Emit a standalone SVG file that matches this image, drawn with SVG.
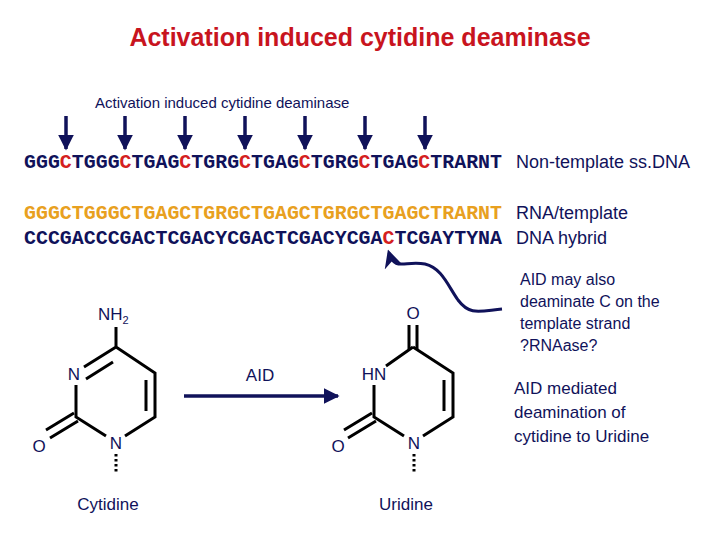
<svg xmlns="http://www.w3.org/2000/svg" width="720" height="540" viewBox="0 0 720 540">
<defs>
<marker id="ah" viewBox="0 0 10 10" refX="9" refY="5" markerWidth="4.5" markerHeight="4.5" markerUnits="strokeWidth" orient="auto"><path d="M0,0 L10,5 L0,10 z" fill="#10125a"/></marker>
<marker id="ah2" viewBox="0 0 10 10" refX="8" refY="5" markerWidth="6" markerHeight="6" orient="auto"><path d="M0,0 L10,5 L0,10 L3,5 z" fill="#10125a"/></marker>
</defs>
<style>
.s{font-family:"Liberation Sans",Arial,sans-serif;fill:#10125a}
.seq{font-family:"Liberation Mono","Courier New",monospace;font-weight:bold;font-size:20px}
.b{stroke:#000;stroke-width:3;fill:none}
.r{fill:#d42020}
</style>
<rect width="720" height="540" fill="#fff"/>
<text x="360" y="46" text-anchor="middle" font-family="Liberation Sans,Arial,sans-serif" font-weight="bold" font-size="25" fill="#c8141e">Activation induced cytidine deaminase</text>
<text class="s" x="95" y="108" font-size="15">Activation induced cytidine deaminase</text>
<g id="connectors" stroke="#10125a" fill="none">
<g stroke-width="3.5" marker-end="url(#ah)">
<line x1="66" y1="116" x2="66" y2="149"/><line x1="125" y1="116" x2="125" y2="149"/><line x1="185" y1="116" x2="185" y2="149"/><line x1="245" y1="116" x2="245" y2="149"/><line x1="305" y1="116" x2="305" y2="149"/><line x1="365" y1="116" x2="365" y2="149"/><line x1="425" y1="116" x2="425" y2="149"/>
</g>
<path d="M502,309 C480,311 470,316 458,300 C448,286 442,268 425,264 C405,260 395,272 389,253" stroke-width="3" marker-end="url(#ah2)"/>
<line x1="184" y1="396" x2="338" y2="396" stroke-width="3.5" marker-end="url(#ah)"/>
</g>
<g id="seq1"><text class="seq" x="24" y="168" textLength="478" lengthAdjust="spacingAndGlyphs" fill="#10125a">GGG<tspan class="r">C</tspan>TGGG<tspan class="r">C</tspan>TGAG<tspan class="r">C</tspan>TGRG<tspan class="r">C</tspan>TGAG<tspan class="r">C</tspan>TGRG<tspan class="r">C</tspan>TGAG<tspan class="r">C</tspan>TRARNT</text>
<text class="s" x="516" y="168" font-size="18">Non-template ss.DNA</text></g>
<g id="seq2"><text class="seq" x="24" y="219" textLength="478" lengthAdjust="spacingAndGlyphs" fill="#e8a020">GGGCTGGGCTGAGCTGRGCTGAGCTGRGCTGAGCTRARNT</text>
<text class="seq" x="24" y="244" textLength="478" lengthAdjust="spacingAndGlyphs" fill="#10125a">CCCGACCCGACTCGACYCGACTCGACYCGA<tspan class="r">C</tspan>TCGAYTYNA</text>
<text class="s" x="516" y="219" font-size="18">RNA/template</text>
<text class="s" x="516" y="244" font-size="18">DNA hybrid</text></g>
<g id="note1" class="s" font-size="16"><text x="520" y="285">AID may also</text><text x="520" y="307">deaminate C on the</text><text x="520" y="329">template strand</text><text x="520" y="351">?RNAase?</text></g>
<g id="note2" class="s" font-size="17"><text x="514" y="394">AID mediated</text><text x="514" y="418">deamination of</text><text x="514" y="442">cytidine to Uridine</text></g>
<text class="s" x="260" y="381" font-size="17" text-anchor="middle">AID</text>
<g id="cytidine">
<path class="b" d="M116,327 V347 L155,373 V417 L125,436 M106,436 L76,417 V385 M84,367 L116,347"/>
<path class="b" d="M146,380 V411 M86,379 L113,362 M74,413 L46,430 M78,421 L50,438"/>
<line x1="116" y1="454" x2="116" y2="474" stroke="#000" stroke-width="3" stroke-dasharray="2.5,2.5"/>
<text class="s" x="98" y="320" font-size="17">NH<tspan font-size="11" dy="4">2</tspan></text>
<text class="s" x="74" y="380" font-size="17" text-anchor="middle">N</text>
<text class="s" x="116" y="449" font-size="17" text-anchor="middle">N</text>
<text class="s" x="39" y="452" font-size="17" text-anchor="middle">O</text>
<text class="s" x="108" y="510" font-size="17" text-anchor="middle">Cytidine</text>
</g>
<g id="uridine">
<path class="b" d="M413,347 L453,373 V417 L423,436 M404,436 L374,417 V385 M386,366 L413,347"/>
<path class="b" d="M444,380 V411 M409,325 V349 M417,325 V349 M372,413 L344,430 M376,421 L348,438"/>
<line x1="414" y1="454" x2="414" y2="474" stroke="#000" stroke-width="3" stroke-dasharray="2.5,2.5"/>
<text class="s" x="413" y="319" font-size="17" text-anchor="middle">O</text>
<text class="s" x="374" y="380" font-size="17" text-anchor="middle">HN</text>
<text class="s" x="414" y="449" font-size="17" text-anchor="middle">N</text>
<text class="s" x="338" y="452" font-size="17" text-anchor="middle">O</text>
<text class="s" x="406" y="510" font-size="17" text-anchor="middle">Uridine</text>
</g>
</svg>
